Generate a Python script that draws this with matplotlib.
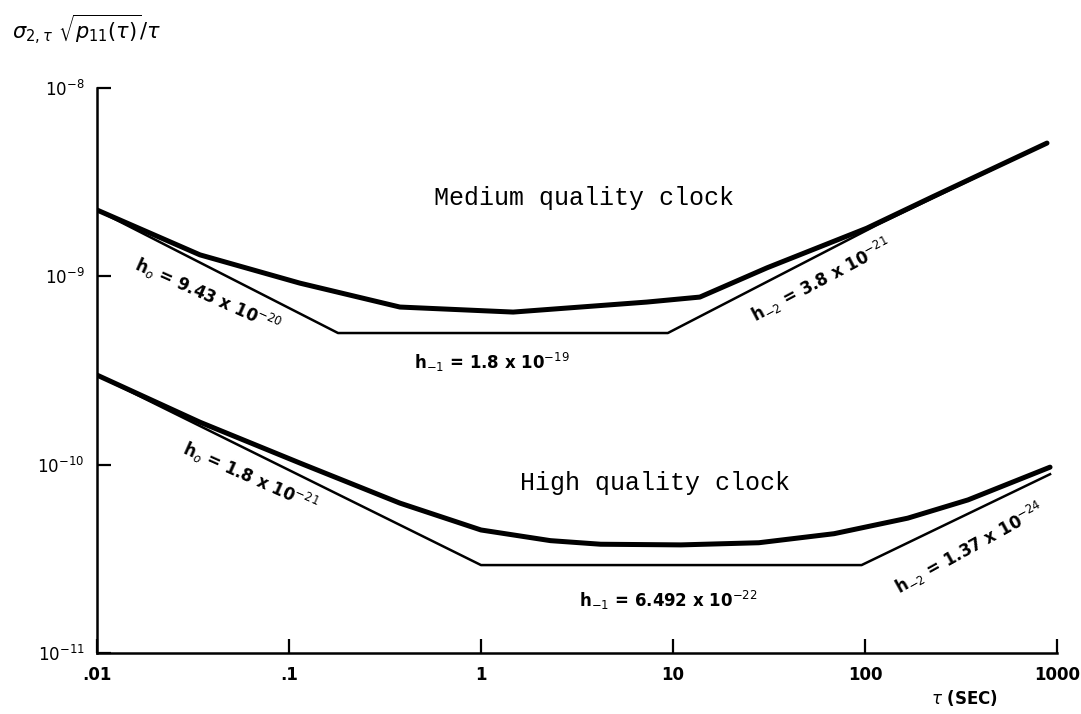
import matplotlib
matplotlib.use('Agg')
import matplotlib.pyplot as plt

# valores (tau en segundos)
tau_med = [0.01, 0.0344, 0.114, 0.378, 1.47, 7.3, 13.8, 30.9, 102, 226, 887]
sig_med = [2.25e-9, 1.30e-9, 9.2e-10, 6.87e-10, 6.46e-10, 7.3e-10, 7.76e-10,
           1.11e-9, 1.80e-9, 2.65e-9, 5.1e-9]
tau_med_asint = [0.01, 0.18, 9.4, 115, 887]
sig_med_asint = [2.25e-9, 5.0e-10, 5.0e-10, 1.87e-9, 5.1e-9]

tau_alta = [0.01, 0.0344, 0.114, 0.378, 1.0, 2.3, 4.2, 11, 28, 69, 167, 344, 920]
sig_alta = [2.99e-10, 1.68e-10, 1.02e-10, 6.25e-11, 4.5e-11, 3.95e-11, 3.78e-11,
            3.75e-11, 3.85e-11, 4.3e-11, 5.2e-11, 6.5e-11, 9.7e-11]
tau_alta_asint = [0.01, 1.0, 96, 920]
sig_alta_asint = [2.99e-10, 2.93e-11, 2.93e-11, 8.9e-11]

xticks = [0.01, 0.1, 1, 10, 100, 1000]
xtick_labels = ['.01', '.1', '1', '10', '100', '1000']
yticks = [1e-11, 1e-10, 1e-9, 1e-8]
ytick_labels = ['10$^{-11}$', '10$^{-10}$', '10$^{-9}$', '10$^{-8}$']

fig = plt.figure(figsize=(10.81, 7.14), dpi=100)
ax = fig.add_axes([97/1081, 1-653/714, (1057-97)/1081, (653-88)/714])

ax.plot(tau_med, sig_med, color='black', lw=3.6, solid_capstyle='round')
ax.plot(tau_med_asint, sig_med_asint, color='black', lw=1.8)
ax.plot(tau_alta, sig_alta, color='black', lw=3.6, solid_capstyle='round')
ax.plot(tau_alta_asint, sig_alta_asint, color='black', lw=1.8)

ax.set_xscale('log')
ax.set_yscale('log')
ax.set_xlim(0.01, 1000)
ax.set_ylim(1e-11, 1e-8)
ax.set_xticks(xticks)
ax.set_xticklabels(xtick_labels, weight='bold')
ax.set_yticks(yticks)
ax.set_yticklabels(ytick_labels)
ax.minorticks_off()
ax.tick_params(direction='in', length=10, width=1.6, labelsize=12, pad=9)
for s in ['top', 'right']:
    ax.spines[s].set_visible(False)
for s in ['left', 'bottom']:
    ax.spines[s].set_linewidth(1.8)

mono = 'Liberation Mono'
ax.text(3.44, 2.6e-9, 'Medium quality clock', family=mono, fontsize=18,
        ha='center', va='center')
ax.text(8.06, 7.98e-11, 'High quality clock', family=mono, fontsize=18,
        ha='center', va='center')

kw = dict(fontsize=12, ha='center', va='center', weight='bold')
ax.text(0.0379, 7.96e-10, r'h$_o$ = 9.43 x 10$^{-20}$', rotation=-24, **kw)
ax.text(1.14, 3.47e-10, r'h$_{-1}$ = 1.8 x 10$^{-19}$', **kw)
ax.text(59, 9.55e-10, r'h$_{-2}$ = 3.8 x 10$^{-21}$', rotation=28, **kw)
ax.text(0.0627, 8.6e-11, r'h$_o$ = 1.8 x 10$^{-21}$', rotation=-24, **kw)
ax.text(9.5, 1.91e-11, r'h$_{-1}$ = 6.492 x 10$^{-22}$', **kw)
ax.text(352, 3.6e-11, r'h$_{-2}$ = 1.37 x 10$^{-24}$', rotation=29, **kw)

fig.text(12/1081, 1-30/714, r'$\sigma_{2,\tau}\ \sqrt{p_{11}(\tau)}/\tau$',
         fontsize=15, ha='left', va='center')
fig.text(998/1081, 1-698/714, r'$\tau$ (SEC)', fontsize=12, ha='right',
         va='center', weight='bold')

fig.savefig('out.png', dpi=100, facecolor='white')
